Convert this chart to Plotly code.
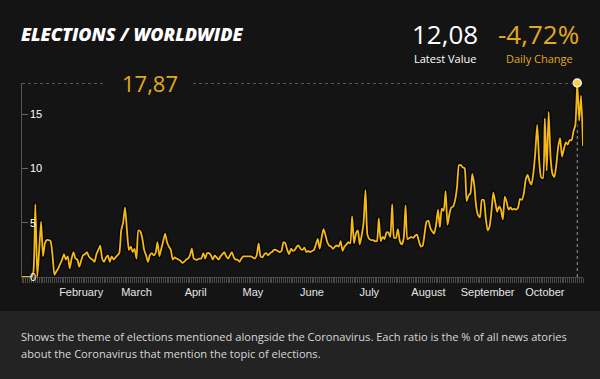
import plotly.graph_objects as go
import pandas as pd

# ---------------- data ----------------
start_date = "2020-01-01"
values = [
    0.0, 0.0, 0.0, 0.0, 0.0, 0.0,
    0.5, 6.7, 0.0, 2.5, 5.1, 1.9, 3.1, 3.4, 3.4, 3.3,
    2.0, 0.2, 0.5, 0.8, 1.2, 1.6, 2.1, 1.6, 1.9, 0.8,
    1.7, 2.3, 1.7, 1.6, 0.95, 1.5, 2.0, 2.1, 2.3, 1.9,
    1.7, 1.6, 1.4, 2.1, 2.5, 2.9, 1.7, 1.4, 1.8, 2.0,
    1.4, 1.9, 1.6, 1.8, 2.0, 2.2, 4.3, 5.0, 6.4, 4.3,
    2.5, 2.8, 2.3, 2.6, 1.7, 4.3, 4.2, 3.6, 2.5, 2.0,
    1.4, 2.0, 2.2, 2.0, 2.2, 3.2, 1.9, 2.6, 3.3, 4.0,
    3.2, 2.8, 2.5, 1.6, 1.8, 1.7, 1.6, 1.5, 1.3, 1.4,
    1.6, 1.7, 2.0, 2.6, 1.7, 1.6, 1.6, 1.7, 1.7, 2.2,
    1.7, 2.2, 2.2, 2.0, 1.6, 2.0, 1.8, 1.6, 1.9, 2.1,
    2.3, 1.9, 1.7, 2.0, 2.3, 1.8, 1.6, 1.6, 1.4, 1.7,
    1.9, 1.9, 1.9, 1.9, 1.9, 1.8, 1.7, 2.0, 3.1, 1.9,
    1.8, 2.1, 2.2, 2.0, 2.2, 2.3, 2.5, 2.5, 2.4, 2.3,
    2.4, 3.2, 3.1, 2.5, 2.1, 2.6, 2.4, 2.5, 2.8, 2.9,
    2.6, 2.5, 2.7, 2.3, 2.4, 2.3, 2.4, 2.5, 3.0, 3.5,
    2.6, 3.6, 4.4, 3.9, 3.2, 2.9, 2.8, 2.6, 2.8, 2.9,
    2.8, 3.3, 2.4, 2.8, 3.0, 3.2, 3.1, 5.6, 3.1, 4.0,
    4.3, 3.0, 3.8, 5.0, 8.0, 3.9, 3.5, 3.4, 3.4, 3.3,
    3.3, 5.4, 3.3, 3.7, 3.5, 4.1, 4.1, 3.7, 6.7, 3.6,
    3.6, 4.4, 3.3, 3.0, 3.5, 6.6, 3.5, 3.6, 3.7, 3.6,
    3.8, 3.9, 3.3, 2.8, 2.9, 4.0, 5.1, 5.2, 4.5, 4.2,
    4.0, 4.8, 6.2, 4.6, 6.3, 6.1, 7.9, 4.8, 5.8, 6.4,
    6.5, 7.1, 8.3, 10.3, 10.3, 10.1, 10.0, 7.0, 7.5, 7.7,
    9.5, 8.5, 6.5, 5.7, 5.5, 7.1, 7.1, 5.5, 4.3, 4.6,
    6.0, 7.8, 6.9, 6.0, 6.5, 6.2, 5.3, 7.4, 6.9, 6.2,
    6.4, 6.2, 6.3, 6.2, 6.4, 7.2, 7.1, 7.7, 9.0, 9.4,
    8.8, 8.5, 9.6, 11.5, 14.0, 10.8, 9.2, 9.1, 14.6, 9.8,
    15.2, 11.0, 9.5, 9.2, 10.3, 12.0, 12.8, 11.1, 11.8, 12.4,
    12.2, 12.6, 12.6, 13.4, 14.0, 17.87, 14.4, 16.7, 12.08,
]
dates = pd.date_range(start_date, periods=len(values), freq="D")

month_ticks = ["2020-02-01", "2020-03-01", "2020-04-01", "2020-05-01", "2020-06-01",
               "2020-07-01", "2020-08-01", "2020-09-01", "2020-10-01"]
month_labels = ["February", "March", "April", "May", "June",
                "July", "August", "September", "October"]
y_ticks = [0, 5, 10, 15]

title_text = "ELECTIONS / WORLDWIDE"
daily_change = -4.72
description_lines = [
    "Shows the theme of elections mentioned alongside the Coronavirus. Each ratio is the % of all news atories",
    "about the Coronavirus that mention the topic of elections.",
]

# ---------------- derived ----------------
max_val = max(values)
max_idx = values.index(max_val)
max_date = dates[max_idx]
latest = values[-1]

def fmt(v):
    return f"{v:.2f}".replace(".", ",")

# ---------------- layout geometry ----------------
W, H = 600, 379
L, R, T, B = 22, 17, 83, 102
PW = W - L - R
PH = H - T - B

def px(x):
    return (x - L) / PW

def py(y):
    return (H - B - y) / PH

GOLD = "#f5b914"
GOLD_TXT = "#e0a91e"
BG = "#141414"
BAND = "#232323"

fig = go.Figure()

# dark outline under line
fig.add_trace(go.Scatter(
    x=dates, y=values, mode="lines",
    line=dict(color="rgba(0,0,0,0.75)", width=4.5, shape="spline", smoothing=0.5),
    hoverinfo="skip", showlegend=False, cliponaxis=False,
))
fig.add_trace(go.Scatter(
    x=dates, y=values, mode="lines",
    line=dict(color=GOLD, width=1.8, shape="spline", smoothing=0.5),
    showlegend=False, cliponaxis=False,
))
fig.add_trace(go.Scatter(
    x=[max_date], y=[max_val], mode="markers",
    marker=dict(size=8, color="#f7cf4a", line=dict(color="#f4f0e0", width=1.5)),
    showlegend=False, cliponaxis=False,
))

shapes = [
    # bottom band
    dict(type="rect", xref="paper", yref="paper",
         x0=px(0), x1=px(W), y0=py(H), y1=py(311),
         fillcolor=BAND, line=dict(width=0), layer="below"),
    # dotted horizontal line at max (left and right of the label)
    dict(type="line", xref="paper", yref="y",
         x0=0, x1=px(106), y0=max_val, y1=max_val,
         line=dict(color="#9a9a9a", width=1, dash="dot")),
    dict(type="line", xref="paper", yref="y",
         x0=px(193), x1=max_idx / (len(values) - 1),
         y0=max_val, y1=max_val,
         line=dict(color="#9a9a9a", width=1, dash="dot")),
    # vertical dotted line
    dict(type="line", xref="x", yref="y",
         x0=max_date, x1=max_date, y0=0, y1=max_val,
         line=dict(color="#9a9a9a", width=1, dash="dot"), layer="below"),
]

annotations = [
    dict(text=title_text, x=px(19), y=py(34), xref="paper", yref="paper",
         xanchor="left", yanchor="middle", showarrow=False,
         font=dict(family="Open Sans", size=18, weight=800, style="italic", color="#ffffff")),
    dict(text=fmt(latest), x=px(445), y=py(34), xref="paper", yref="paper",
         xanchor="center", yanchor="middle", showarrow=False,
         font=dict(family="Open Sans", size=26, color="#ffffff")),
    dict(text="Latest Value", x=px(445), y=py(58), xref="paper", yref="paper",
         xanchor="center", yanchor="middle", showarrow=False,
         font=dict(family="Open Sans", size=11, color="#ffffff")),
    dict(text=fmt(daily_change) + "%", x=px(538), y=py(34), xref="paper", yref="paper",
         xanchor="center", yanchor="middle", showarrow=False,
         font=dict(family="Open Sans", size=26, color=GOLD_TXT)),
    dict(text="Daily Change", x=px(539), y=py(58), xref="paper", yref="paper",
         xanchor="center", yanchor="middle", showarrow=False,
         font=dict(family="Open Sans", size=11, color=GOLD_TXT)),
    dict(text=fmt(max_val), x=px(149.5), y=max_val, xref="paper", yref="y",
         xanchor="center", yanchor="middle", showarrow=False,
         font=dict(family="Open Sans", size=22, color=GOLD_TXT)),
    dict(text=description_lines[0], x=px(19), y=py(336), xref="paper", yref="paper",
         xanchor="left", yanchor="middle", showarrow=False,
         font=dict(family="Open Sans", size=11.1, color="#d8d8d8")),
    dict(text=description_lines[1], x=px(19), y=py(353), xref="paper", yref="paper",
         xanchor="left", yanchor="middle", showarrow=False,
         font=dict(family="Open Sans", size=11.1, color="#d8d8d8")),
]

# y tick labels drawn inside the plot, to the right of the short ticks
for v in y_ticks:
    annotations.append(dict(
        text=str(v), x=px(28), y=v, xref="paper", yref="y",
        xanchor="left", yanchor="middle", showarrow=False,
        font=dict(family="Liberation Sans", size=11, color="#ffffff"),
    ))

fig.update_layout(
    width=W, height=H, autosize=False,
    margin=dict(l=L, r=R, t=T, b=B),
    paper_bgcolor=BG, plot_bgcolor=BG,
    shapes=shapes, annotations=annotations,
    showlegend=False,
    xaxis=dict(
        type="date",
        range=[dates[0], dates[-1]],
        tickmode="array", tickvals=month_ticks, ticktext=month_labels,
        ticks="outside", ticklen=5, tickcolor="#4a4a4a", tickwidth=1,
        showgrid=False, zeroline=False,
        showline=True, linecolor="#4a4a4a", linewidth=1,
        tickfont=dict(family="Liberation Sans", size=11, color="#e6e6e6"),
        minor=dict(tickmode="linear", tick0=start_date, dtick=86400000,
                   ticks="outside", ticklen=5, tickcolor="#4a4a4a", tickwidth=1,
                   showgrid=False),
        fixedrange=True,
    ),
    yaxis=dict(
        range=[0, max_val],
        tickmode="array", tickvals=y_ticks,
        ticks="inside", ticklen=6, tickcolor="#666666",
        showticklabels=False,
        showgrid=False, zeroline=False,
        showline=True, linecolor="#555555", linewidth=1,
        fixedrange=True,
    ),
)

fig.write_html("out.html", config={"displayModeBar": False},
               post_script="document.body.style.margin='0';document.body.style.background='#141414';")
